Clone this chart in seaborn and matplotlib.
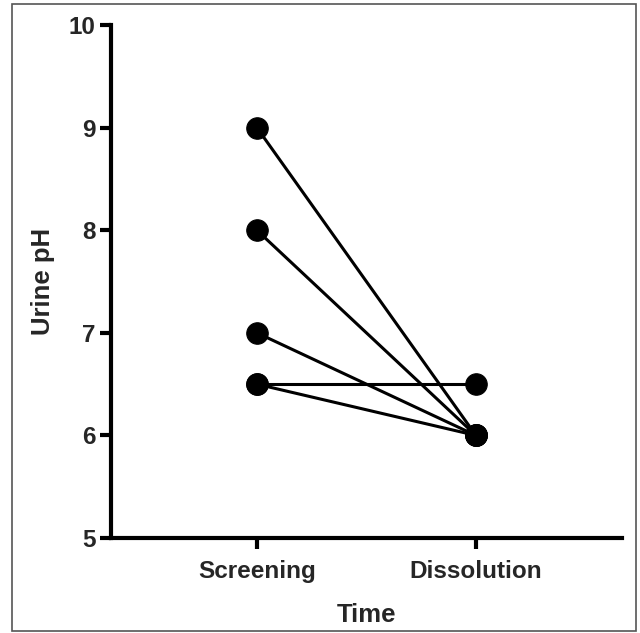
import pandas as pd
import seaborn as sns
import matplotlib.pyplot as plt
from matplotlib.patches import Rectangle

sns.set_style('ticks')
plt.rcParams['font.family'] = ['Liberation Sans', 'DejaVu Sans']

time_points = ['Screening', 'Dissolution']
subjects = [1, 2, 3, 4, 5]
screening_ph = [9.0, 8.0, 7.0, 6.5, 6.5]
dissolution_ph = [6.0, 6.0, 6.0, 6.0, 6.5]
y_ticks = [5, 6, 7, 8, 9, 10]

rows = []
for subject, before, after in zip(subjects, screening_ph, dissolution_ph):
    rows.append({'Subject': subject, 'Time': time_points[0], 'Urine pH': before})
    rows.append({'Subject': subject, 'Time': time_points[1], 'Urine pH': after})
df = pd.DataFrame(rows)

fig = plt.figure(figsize=(6.4, 6.33), dpi=100)
ax = fig.add_axes([0.173, 0.150, 0.799, 0.8105])

sns.lineplot(x='Time', y='Urine pH', units='Subject', estimator=None, data=df,
             color='black', linewidth=2.2, marker='o', markersize=15.5,
             markeredgecolor='black', ax=ax, sort=False)

ax.set_xlim(-0.667, 1.667)
ax.set_ylim(5, 10)
ax.set_yticks(y_ticks)
ax.set_xticks([0, 1])
ax.set_xticklabels(time_points)

for side in ['top', 'right']:
    ax.spines[side].set_visible(False)
for side in ['left', 'bottom']:
    ax.spines[side].set_linewidth(3)
    ax.spines[side].set_color('black')
ax.spines['left'].set_capstyle('projecting')

ax.tick_params(axis='both', length=8, width=3, color='black', labelsize=17.5)
ax.tick_params(axis='y', pad=3)
ax.tick_params(axis='x', pad=8)
for label in ax.get_xticklabels() + ax.get_yticklabels():
    label.set_fontweight('bold')

ax.set_xlabel('Time', fontsize=18.5, fontweight='bold', labelpad=14)
ax.set_ylabel('Urine pH', fontsize=18.5, fontweight='bold', labelpad=10)

fig.patches.append(Rectangle((0.019, 0.003), 0.975, 0.99, transform=fig.transFigure,
                             fill=False, edgecolor='#555555', linewidth=1.2))

fig.savefig('out.png', dpi=100)
